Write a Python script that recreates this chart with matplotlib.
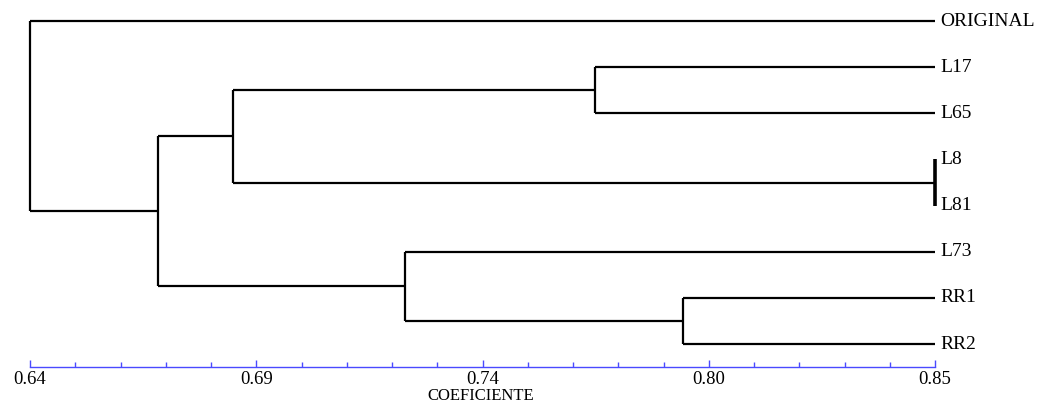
import numpy as np
import matplotlib
matplotlib.use("Agg")
import matplotlib.pyplot as plt

# leaves, top to bottom
leaves = ["ORIGINAL", "L17", "L65", "L8", "L81", "L73", "RR1", "RR2"]
# merges: (child a, child b, coefficient); ids >= 8 refer to earlier merges
merges = [
    (1, 2, 0.771),    # 8  L17-L65
    (3, 4, 0.850),    # 9  L8-L81
    (8, 9, 0.687),    # 10
    (6, 7, 0.7915),   # 11 RR1-RR2
    (5, 11, 0.727),   # 12
    (10, 12, 0.6697), # 13
    (0, 13, 0.640),   # 14 root
]
tick_vals = np.linspace(0.64, 0.85, 5)
tick_labels = ["0.64", "0.69", "0.74", "0.80", "0.85"]
leaf_x = 0.85

plt.rcParams["font.family"] = ["Liberation Serif", "DejaVu Serif"]

fig = plt.figure(figsize=(10.47, 4.05), dpi=100)
ax = fig.add_axes([0, 0, 1, 1])

# node positions
ypos = {i: float(i) for i in range(len(leaves))}
xpos = {i: leaf_x for i in range(len(leaves))}
for k, (a, b, h) in enumerate(merges):
    nid = len(leaves) + k
    for c in (a, b):
        ax.plot([h, xpos[c]], [ypos[c], ypos[c]], color="black", lw=1.6,
                solid_capstyle="butt")
    lw = 2.6 if h >= leaf_x else 1.6
    ax.plot([h, h], [ypos[a], ypos[b]], color="black", lw=lw,
            solid_capstyle="butt")
    ypos[nid] = (ypos[a] + ypos[b]) / 2
    xpos[nid] = h

for i, name in enumerate(leaves):
    ax.text(leaf_x + 0.0012, i, name, fontsize=14, va="center", ha="left")

# axis
x_per_px = 0.21 / 905
ax.set_xlim(0.64 - 30 * x_per_px, 0.85 + 112 * x_per_px)
ax.set_ylim(8.32, -0.455)

for s in ["top", "left", "right"]:
    ax.spines[s].set_visible(False)
ax.spines["bottom"].set_position(("data", 7.5))
ax.spines["bottom"].set_bounds(0.64, 0.85)
ax.spines["bottom"].set_color("#4a4aff")
ax.spines["bottom"].set_linewidth(1.0)
ax.set_yticks([])
ax.set_xticks(tick_vals)
ax.set_xticklabels(tick_labels, fontsize=13.5)
minor = np.linspace(0.64, 0.85, 21)
ax.set_xticks(minor, minor=True)
ax.tick_params(axis="x", which="major", direction="in", length=5, color="#4a4aff",
               width=1.0, pad=3)
ax.tick_params(axis="x", which="minor", direction="in", length=3.5, color="#4a4aff",
               width=1.0)
ax.text((0.64 + 0.85) / 2 - 0.0005, 8.30, "COEFICIENTE", fontsize=12, ha="center",
        va="bottom")
ax.patch.set_visible(False)

fig.savefig("out.png", dpi=100)
